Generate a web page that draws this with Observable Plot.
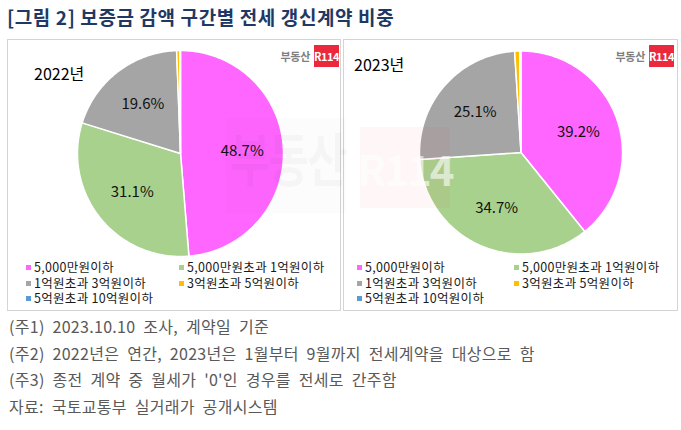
<!DOCTYPE html>
<html><head><meta charset="utf-8">
<script src="https://cdn.jsdelivr.net/npm/d3@7"></script>
<script src="https://cdn.jsdelivr.net/npm/@observablehq/plot@0.6"></script>
<style>
body{margin:0;background:#fff;font-family:"Noto Sans CJK KR","Noto Sans",sans-serif;}
#wrap{position:relative;width:681px;height:430px;overflow:hidden;}
.title{position:absolute;left:7px;top:3px;font-size:19px;font-weight:bold;color:#1f3864;white-space:nowrap;letter-spacing:0.6px;}
.panel{position:absolute;top:39px;height:272px;border:1px solid #d4d4d4;box-sizing:border-box;}
.panel svg{position:absolute;left:0;top:0;}
.year{position:absolute;font-size:16px;color:#000;white-space:nowrap;line-height:18px;}
.logo{position:absolute;top:5px;display:flex;align-items:center;gap:4px;}
.logo .t{font-size:11px;font-weight:bold;color:#7f7f7f;letter-spacing:-0.3px;}
.logo .b{width:25px;height:22px;background:#ea2a3c;color:#fff;font-size:11px;font-weight:bold;display:flex;align-items:center;justify-content:center;letter-spacing:-0.5px;}
.leg{position:absolute;font-size:12.5px;color:#1a1a1a;white-space:nowrap;line-height:13px;letter-spacing:0.3px;}
.leg .it{position:absolute;white-space:nowrap;}
.leg .sw{display:inline-block;width:5px;height:5px;margin-right:3px;vertical-align:middle;position:relative;top:-1px;}
.notes{position:absolute;left:9px;top:313px;font-size:16px;color:#595959;line-height:26.6px;white-space:nowrap;word-spacing:4px;letter-spacing:0.3px;}
.wm{position:absolute;pointer-events:none;}
</style></head>
<body><div id="wrap">
<div class="title">[그림 2] 보증금 감액 구간별 전세 갱신계약 비중</div>
<div class="panel" id="p0" style="left:7px;width:334px;"></div>
<div class="panel" id="p1" style="left:343px;width:335px;"></div>
<div class="wm" style="left:226px;top:118px;width:120px;height:95px;background:rgba(0,0,0,0.01);"></div>
<div class="wm" style="left:230px;top:124px;font-size:44px;line-height:50px;font-weight:bold;color:rgba(0,0,0,0.028);transform:scaleY(1.3);transform-origin:top left;letter-spacing:-2px;">부동산</div>
<div class="wm" style="left:360px;top:127px;width:90px;height:81px;background:rgba(234,42,60,0.045);color:rgba(255,255,255,0.6);font-size:42px;line-height:50px;font-weight:bold;display:flex;align-items:center;justify-content:center;letter-spacing:-2px;">R114</div>
<div class="notes">
<div>(주1) 2023.10.10 조사, 계약일 기준</div>
<div>(주2) 2022년은 연간, 2023년은 1월부터 9월까지 전세계약을 대상으로 함</div>
<div>(주3) 종전 계약 중 월세가 '0'인 경우를 전세로 간주함</div>
<div>자료: 국토교통부 실거래가 공개시스템</div>
</div>
</div>
<script>
const cats = ["5,000만원이하","5,000만원초과 1억원이하","1억원초과 3억원이하","3억원초과 5억원이하","5억원초과 10억원이하"];
const colors = ["#FF66FF","#A9D18E","#A5A5A5","#FFC000","#5B9BD5"];
const years = ["2022년","2023년"];
const values2022 = [48.7,31.1,19.6,0.5,0.1];
const values2023 = [39.2,34.7,25.1,0.8,0.2];
const series = [values2022, values2023];

const layout = [
  {w:332, h:218, cx:172, cy:113, r:103, yearX:26, yearY:24, logoRight:1, legX:[18,171]},
  {w:333, h:218, cx:176.5, cy:112, r:101.5, yearX:10, yearY:15, logoRight:3, legX:[13,170]}
];

function build(values){
  const arcs = d3.pie().sort(null).sortValues(null).value(d=>d)(values);
  const pts=[], labels=[];
  arcs.forEach((a,i)=>{
    pts.push({cat:cats[i], x:0, y:0});
    const n = Math.max(2, Math.ceil((a.endAngle-a.startAngle)/(Math.PI/180)));
    for(let k=0;k<=n;k++){
      const t = a.startAngle + (a.endAngle-a.startAngle)*k/n;
      pts.push({cat:cats[i], x:Math.sin(t), y:Math.cos(t)});
    }
    const m=(a.startAngle+a.endAngle)/2;
    labels.push({cat:cats[i], value:values[i], x:0.6*Math.sin(m), y:0.6*Math.cos(m)});
  });
  return {pts, labels};
}

series.forEach((values, idx)=>{
  const L = layout[idx];
  const {pts, labels} = build(values);
  const chart = Plot.plot({
    width:L.w, height:L.h, margin:0,
    style:{fontFamily:'"Noto Sans CJK KR","Noto Sans",sans-serif', background:"transparent"},
    x:{domain:[-1,1], range:[L.cx-L.r, L.cx+L.r], axis:null},
    y:{domain:[-1,1], range:[L.cy+L.r, L.cy-L.r], axis:null},
    color:{domain:cats, range:colors},
    marks:[
      Plot.line(pts,{x:"x",y:"y",z:"cat",fill:"cat",stroke:"white",strokeWidth:1.5,curve:"linear-closed"}),
      Plot.text(labels.filter(d=>d.value>=5),{x:"x",y:"y",text:d=>d.value.toFixed(1)+"%",fontSize:15,fill:"#111"})
    ]
  });
  const p = document.getElementById("p"+idx);
  p.appendChild(chart);
  const yr = document.createElement("div");
  yr.className="year"; yr.style.left=L.yearX+"px"; yr.style.top=L.yearY+"px"; yr.textContent=years[idx];
  p.appendChild(yr);
  const logo = document.createElement("div");
  logo.className="logo"; logo.style.right=L.logoRight+"px";
  logo.innerHTML='<span class="t">부동산</span><span class="b">R114</span>';
  p.appendChild(logo);
  const leg = document.createElement("div");
  leg.className="leg"; leg.style.left="0px"; leg.style.top="0px";
  const rowsY=[220,236,251];
  cats.forEach((c,i)=>{
    const it=document.createElement("div");
    it.className="it";
    it.style.left=L.legX[i%2]+"px";
    it.style.top=rowsY[Math.floor(i/2)]+"px";
    it.innerHTML='<span class="sw" style="background:'+colors[i]+'"></span>'+c;
    leg.appendChild(it);
  });
  p.appendChild(leg);
});
</script>
</body></html>
